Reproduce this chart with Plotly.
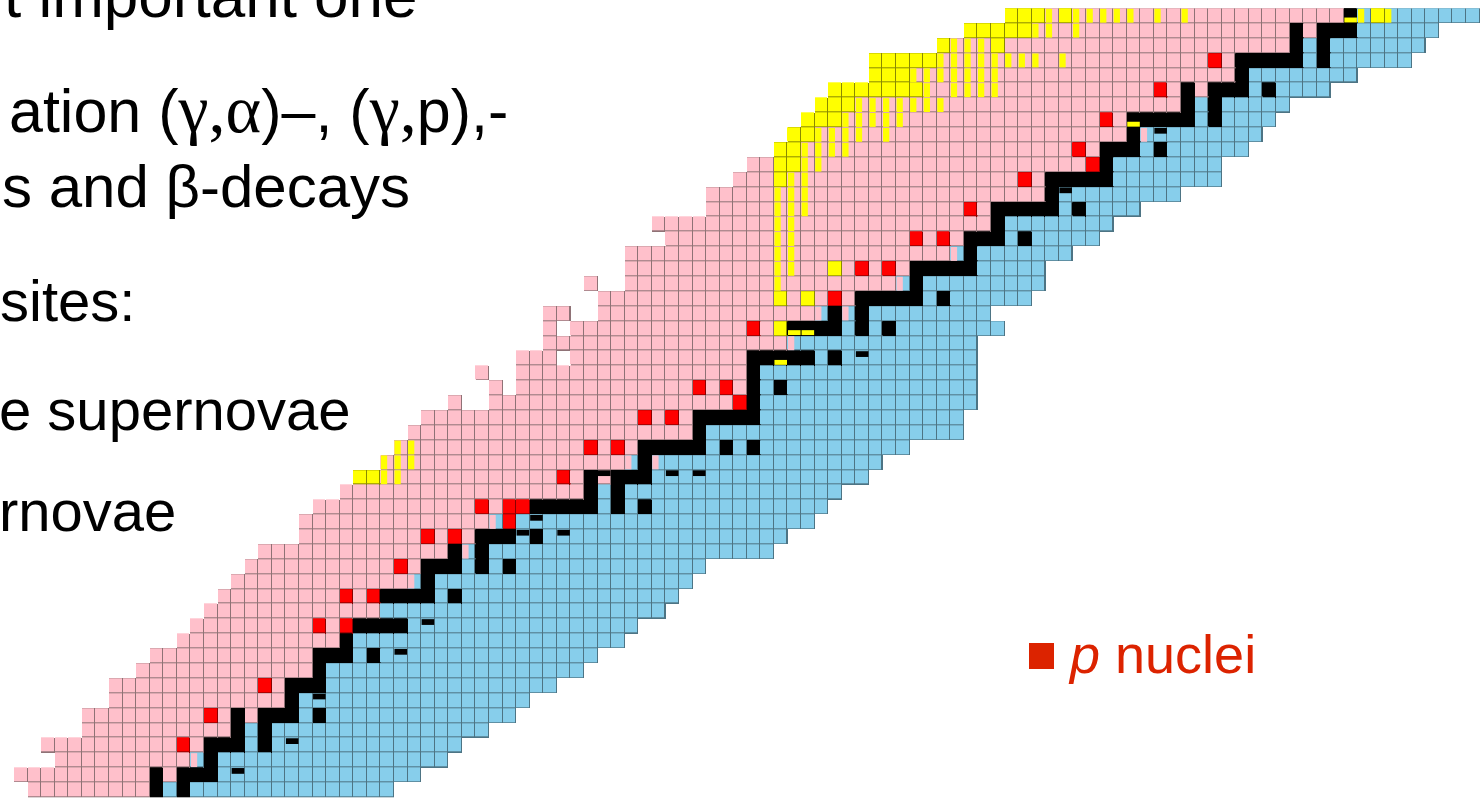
import numpy as np
import plotly.graph_objects as go

# ---- chart of nuclides: rows counted from the top of the band, columns from the left ----
N_ROWS = 53
N_COLS = 108

row_first = [73, 70, 68, 63, 63, 60, 59, 58, 57, 56, 54, 53, 51, 51, 47, 48, 45, 45, 45, 43,
             43, 41, 39, 37, 37, 37, 35, 30, 29, 28, 27, 25, 24, 22, 21, 21, 18, 17, 16, 15,
             14, 13, 12, 10, 9, 7, 7, 5, 5, 2, 3, 0, 1]
row_last = [107, 104, 103, 102, 98, 96, 93, 92, 91, 90, 88, 88, 85, 82, 80, 79, 77, 75, 75, 74,
            71, 72, 70, 70, 70, 70, 70, 69, 69, 65, 63, 62, 60, 59, 58, 56, 55, 50, 49, 48,
            47, 45, 44, 42, 41, 39, 37, 36, 34, 32, 31, 29, 27]
# first neutron-rich (beta-minus) column in each row
blue_from = [99, 99, 95, 95, 91, 91, 87, 87, 83, 83, 81, 81, 77, 77, 73, 73, 69, 71, 65, 67,
             59, 61, 57, 59, 55, 55, 55, 55, 51, 51, 45, 47, 43, 43, 35, 37, 33, 33, 29, 31,
             27, 29, 25, 25, 23, 23, 21, 21, 17, 17, 13, 15, 11]

extra_cells = [(18, 42), (20, 39), (20, 40), (21, 39), (24, 34), (25, 35), (26, 32)]
holes = [(23, 40)]

stable = {
    1: [94, 96, 97, 98], 2: [94, 96], 3: [90, 91, 92, 93, 94, 96], 4: [90],
    5: [86, 88, 89, 90, 92], 6: [86, 88], 7: [83, 84, 85, 86, 88], 8: [82],
    9: [80, 81, 82, 84], 10: [80], 11: [76, 77, 78, 79, 80], 12: [76],
    13: [72, 73, 74, 75, 76, 78], 14: [72], 15: [70, 71, 72, 74], 16: [70],
    17: [66, 67, 68, 69, 70], 18: [66], 19: [62, 63, 64, 65, 66, 68], 20: [60, 62],
    21: [59, 60, 62, 64], 23: [54, 55, 57, 58, 60], 24: [54], 25: [54, 56], 26: [54],
    27: [50, 51, 52, 53, 54], 28: [50], 29: [46, 47, 48, 49, 50, 52, 54], 30: [46],
    31: [42, 44, 45, 46], 32: [42, 44], 33: [38, 39, 40, 41, 42, 44, 46],
    35: [34, 35, 36, 38], 36: [32, 34], 37: [30, 31, 32, 34, 36], 38: [30],
    39: [27, 28, 29, 30, 32], 41: [25, 26, 27, 28], 42: [24], 43: [22, 23, 24, 26],
    44: [22], 45: [20, 21, 22], 46: [20], 47: [16, 18, 19, 20, 22], 48: [16, 18],
    49: [14, 15, 16, 18], 50: [14], 51: [10, 12, 13, 14], 52: [10, 12],
}
p_nuclei = {
    3: [88], 5: [84], 7: [80], 9: [78], 10: [79], 11: [74], 13: [70], 15: [66, 68],
    17: [62, 64], 19: [60], 21: [54], 25: [50, 52], 26: [53], 27: [46, 48], 29: [42, 44],
    31: [40], 33: [34, 36, 37], 34: [36], 35: [30, 32], 37: [28], 39: [24, 26],
    41: [22, 24], 45: [18], 47: [14], 49: [12],
}
alpha_full = {
    0: [73, 74, 75, 77, 100], 1: [70, 71, 72, 73, 74], 2: [68, 72],
    3: [63, 64, 65, 66, 67], 4: [63, 64, 65], 5: [60, 61, 62, 63, 64, 65, 66],
    6: [59, 60, 61], 7: [58, 59, 60], 8: [57, 58], 9: [56, 57], 10: [56, 57], 11: [56],
    17: [60], 19: [56, 58], 21: [56], 31: [25, 26],
}
alpha_branch = {
    0: [76, 78, 79, 80, 81, 82, 84, 86, 99, 101], 1: [75, 76, 78], 2: [69, 70, 71],
    3: [68, 69, 70, 71, 72, 73, 74, 75, 77], 4: [66, 67, 68, 69, 70, 71, 72],
    5: [67, 69, 70, 71, 72], 6: [62, 63, 64, 65, 66, 67, 68], 7: [61, 62, 63, 64, 65],
    8: [59, 60, 61, 62, 64], 9: [58, 59, 60, 61], 10: [58, 59], 11: [57, 58],
    12: [56, 57, 58], 13: [56, 57, 58], 14: [56, 57], 15: [56, 57], 16: [56, 57],
    17: [56, 57], 18: [56], 29: [28, 29], 30: [27, 28, 29], 31: [27, 28],
}
mixed_cells = [(8, 83), (16, 69), (18, 65), (20, 59), (20, 61), (22, 57), (30, 45), (30, 47),
               (34, 35), (36, 33), (38, 29), (50, 13)]
isomer_stable = [(8, 84), (12, 77), (23, 62), (31, 43), (31, 48), (31, 50), (34, 38), (35, 37),
                 (35, 40), (41, 30), (43, 28), (46, 22), (49, 20), (51, 16)]
isomer_alpha = [(0, 98), (7, 82), (21, 57), (21, 58), (23, 56)]

PINK, BLUE, BLACK, RED, YELLOW = "#ffc0cb", "#87ceeb", "#000000", "#ff0000", "#ffff00"
LINE = {PINK: "#8f7276", BLUE: "#4d7484", BLACK: "#000000", RED: "#8a0000", YELLOW: "#8a8a00"}

# ---- category grid ----
z = np.full((N_ROWS, N_COLS), np.nan)
for t in range(N_ROWS):
    for c in range(row_first[t], row_last[t] + 1):
        z[t, c] = 1 if c < blue_from[t] else 2
for t, c in extra_cells:
    z[t, c] = 1
for t, c in holes:
    z[t, c] = np.nan
for t, c in mixed_cells:
    z[t, c] = 2
for t, cols in stable.items():
    z[t, cols] = 3
for t, cols in p_nuclei.items():
    z[t, cols] = 4
for t, cols in alpha_full.items():
    z[t, cols] = 5
for t, c in isomer_alpha:
    z[t, c] = 3


def steps(colors):
    n = len(colors)
    scale = []
    for i, col in enumerate(colors):
        scale += [[i / n, col], [(i + 1) / n, col]]
    return scale


cell_colors = [PINK, BLUE, BLACK, RED, YELLOW]
cols_idx = list(range(N_COLS))
rows_idx = list(range(N_ROWS))

fig = go.Figure()
# outline layer (shows through the gaps as the grid lines)
fig.add_trace(go.Heatmap(z=z, x=cols_idx, y=rows_idx, zmin=0.5, zmax=5.5,
                         colorscale=steps([LINE[c] for c in cell_colors]),
                         showscale=False, hoverinfo="skip"))
fig.add_trace(go.Heatmap(z=z, x=cols_idx, y=rows_idx, zmin=0.5, zmax=5.5,
                         colorscale=steps(cell_colors), xgap=1, ygap=1,
                         showscale=False, hoverinfo="skip"))

DX = 0.5 / 13.57
DY = 0.5 / 14.887
shapes = []


def box(c, t, fx0, fx1, fy0, fy1, color):
    shapes.append(dict(type="rect", xref="x", yref="y", layer="above",
                       x0=c - 0.5 + max(fx0, DX), x1=c - 0.5 + min(fx1, 1 - DX),
                       y0=t - 0.5 + max(fy0, DY), y1=t - 0.5 + min(fy1, 1 - DY),
                       fillcolor=color, line=dict(width=0)))


for t, c in mixed_cells:
    box(c, t, 0, 0.5, 0, 1, PINK)
for t, cols in alpha_branch.items():
    for c in cols:
        box(c, t, 0, 0.5, 0, 1, YELLOW)
for t, c in isomer_stable:
    box(c, t, 0, 1, 0, 0.42, BLACK)
for t, c in isomer_alpha:
    box(c, t, 0, 1, 0.62, 0.95, YELLOW)

# legend marker
shapes.append(dict(type="rect", xref="paper", yref="paper",
                   x0=1029 / 1480, x1=1054 / 1480, y0=1 - 669 / 799, y1=1 - 643 / 799,
                   fillcolor="#dc2300", line=dict(width=0)))

W, H = 1480, 799
SANS = "Liberation Sans, Arial, sans-serif"
SERIF = "Liberation Serif, Times New Roman, serif"


def g(txt, size):
    return f'<span style="font-family:{SERIF};font-size:{size}px">{txt}</span>'


bullet_lines = [
    ("t important one", 420, 17, 62),
    ("ation (" + g("γ,α", 68) + ")–, (" + g("γ,", 68) + "p),-", 510, 130, 61),
    ("s and β-decays", 412, 207, 60),
    ("sites:", 137, 321, 58),
    ("e supernovae", 352, 430, 58),
    ("rnovae", 178, 531, 58),
]
annotations = []
for txt, right, base, size in bullet_lines:
    yc = base - 0.3465 * size
    annotations.append(dict(text=txt, xref="paper", yref="paper", x=right / W, xanchor="right",
                            y=1 - yc / H, yanchor="middle", showarrow=False,
                            font=dict(family=SANS, size=size, color="#000000")))
LS = 54
annotations.append(dict(text="<i>p</i> nuclei", xref="paper", yref="paper", x=1066 / W,
                        xanchor="left", y=1 - (673 - 0.3465 * LS) / H, yanchor="middle",
                        showarrow=False, font=dict(family=SANS, size=LS, color="#dc2300")))

fig.update_layout(
    width=W, height=H, margin=dict(l=0, r=0, t=0, b=0),
    paper_bgcolor="white", plot_bgcolor="white",
    xaxis=dict(visible=False, range=[-1.5317, 107.533], fixedrange=True),
    yaxis=dict(visible=False, range=[52.613, -1.0575], fixedrange=True),
    shapes=shapes, annotations=annotations, showlegend=False,
)

fig.write_html("out.html")
